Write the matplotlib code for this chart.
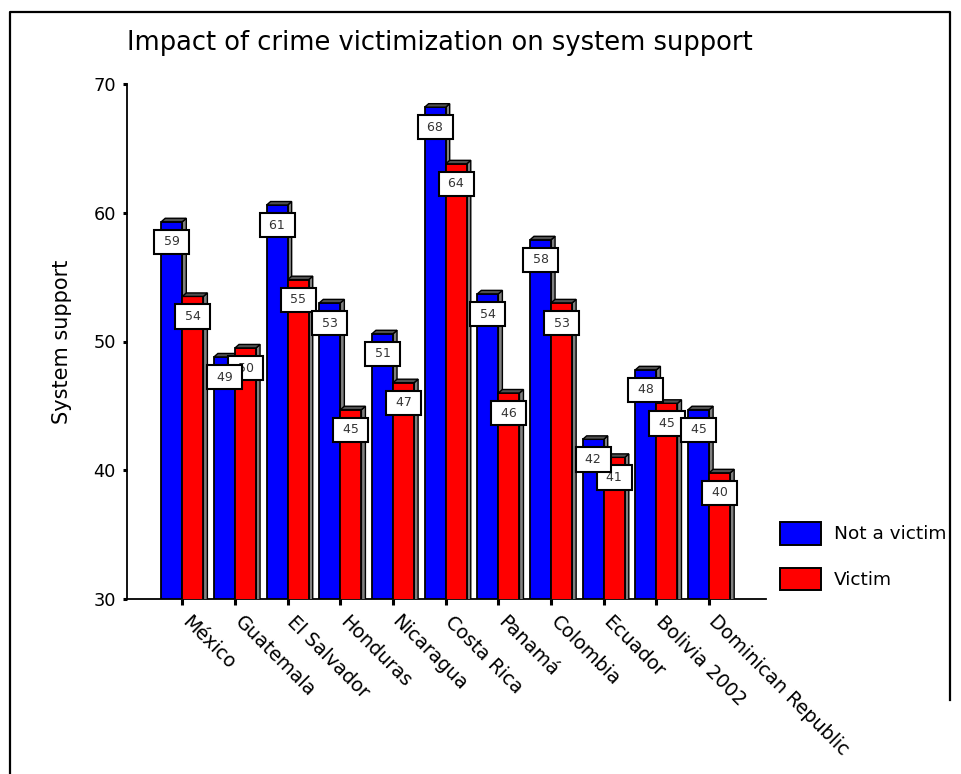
import matplotlib
matplotlib.use("Agg")
import matplotlib.pyplot as plt
import numpy as np
from matplotlib.patches import Polygon, Patch
from matplotlib.lines import Line2D
from matplotlib.transforms import ScaledTranslation

countries = ["México", "Guatemala", "El Salvador", "Honduras", "Nicaragua",
             "Costa Rica", "Panamá", "Colombia", "Ecuador", "Bolivia 2002",
             "Dominican Republic"]
not_victim = [59.3, 48.8, 60.6, 53.0, 50.6, 68.2, 53.7, 57.9, 42.4, 47.8, 44.7]
victim = [53.5, 49.5, 54.8, 44.7, 46.8, 63.8, 46.0, 53.0, 41.0, 45.2, 39.8]

plt.rcParams["font.family"] = ["DejaVu Sans"]

W, H, DPI = 961, 774, 100
fig = plt.figure(figsize=(W / DPI, H / DPI), dpi=DPI)

# axes box in pixels
x0, x1, y_bot, y_top = 127, 766, 599, 84
ax = fig.add_axes([x0 / W, 1 - y_bot / H, (x1 - x0) / W, (y_bot - y_top) / H])
xlim = (-1.05, 11.08)
ylim = (30, 70)
ax.set_xlim(*xlim)
ax.set_ylim(*ylim)

# 3d depth in data units (4 px right, 3.5 px up)
px_x = (x1 - x0) / (xlim[1] - xlim[0])
px_y = (y_bot - y_top) / (ylim[1] - ylim[0])
dx = 4 / px_x
dy = 3.5 / px_y

x = np.arange(len(countries))
bw = 0.4


def draw_bars(xs, vals, color, z):
    ax.bar(xs, vals, width=bw, color=color, edgecolor="black", linewidth=1.3,
           zorder=z)
    for xc, v in zip(xs, vals):
        l, r = xc - bw / 2, xc + bw / 2
        side = Polygon([(r, 0), (r, v), (r + dx, v + dy), (r + dx, 0)],
                       closed=True, facecolor="#808080", edgecolor="black",
                       linewidth=1.0, zorder=z - 0.1)
        top = Polygon([(l, v), (l + dx, v + dy), (r + dx, v + dy), (r, v)],
                      closed=True, facecolor="#505050", edgecolor="black",
                      linewidth=1.0, zorder=z + 0.1)
        ax.add_patch(side)
        ax.add_patch(top)


draw_bars(x - bw / 2, not_victim, "#0000ff", 2)
draw_bars(x + bw / 2, victim, "#ff0000", 3)


def draw_labels(xs, vals, z):
    for xc, v in zip(xs, vals):
        ax.annotate(f" {v:.0f} ", (xc, v), xytext=(0, -14.5),
                    textcoords="offset points", ha="center", va="center",
                    fontsize=9, color="#333333", zorder=z,
                    bbox=dict(boxstyle="square,pad=0.45", facecolor="white",
                              edgecolor="black", linewidth=1.5))


draw_labels(x + bw / 2, victim, 5)
draw_labels(x - bw / 2, not_victim, 6)

# axes styling
for s in ["top", "right"]:
    ax.spines[s].set_visible(False)
for s in ["left", "bottom"]:
    ax.spines[s].set_linewidth(1.3)
ax.set_yticks([30, 40, 50, 60, 70])
ax.tick_params(axis="y", direction="out", length=3, width=2.2, pad=5,
               labelsize=12.8)
ax.set_xticks(x)
ax.set_xticklabels(countries)
ax.tick_params(axis="x", direction="out", length=4.3, width=2.2, pad=5,
               labelsize=13.8)
offset = ScaledTranslation(9 / DPI, 0, fig.dpi_scale_trans)
for lbl in ax.get_xticklabels():
    lbl.set_rotation(-45)
    lbl.set_ha("left")
    lbl.set_va("top")
    lbl.set_rotation_mode("anchor")
    lbl.set_transform(lbl.get_transform() + offset)

fig.text(62 / W, 1 - 342 / H, "System support", rotation=90, ha="center",
         va="center", fontsize=15)
fig.text(127 / W, 1 - 50 / H, "Impact of crime victimization on system support",
         ha="left", va="baseline", fontsize=18.5)

# legend
handles = [Patch(facecolor="#0000ff", edgecolor="black", linewidth=1.4),
           Patch(facecolor="#ff0000", edgecolor="black", linewidth=1.4)]
fs_px = 13.3 * DPI / 72
fig.legend(handles, ["Not a victim", "Victim"], loc="upper left",
           bbox_to_anchor=(780 / W, 1 - 522 / H), frameon=False,
           fontsize=13.3, handlelength=41 / fs_px, handleheight=28 / fs_px,
           handletextpad=13 / fs_px, labelspacing=(51 - 28) / fs_px,
           borderpad=0, borderaxespad=0)

# outer frame (left full height, top, right part way down)
fx0, fx1, fy0 = 10 / W, 950 / W, 1 - 12 / H
fig.add_artist(Line2D([fx0, fx0, fx1, fx1], [0, fy0, fy0, 1 - 700 / H],
                      transform=fig.transFigure, color="black", linewidth=1.6))

fig.savefig("out.png", dpi=DPI)
